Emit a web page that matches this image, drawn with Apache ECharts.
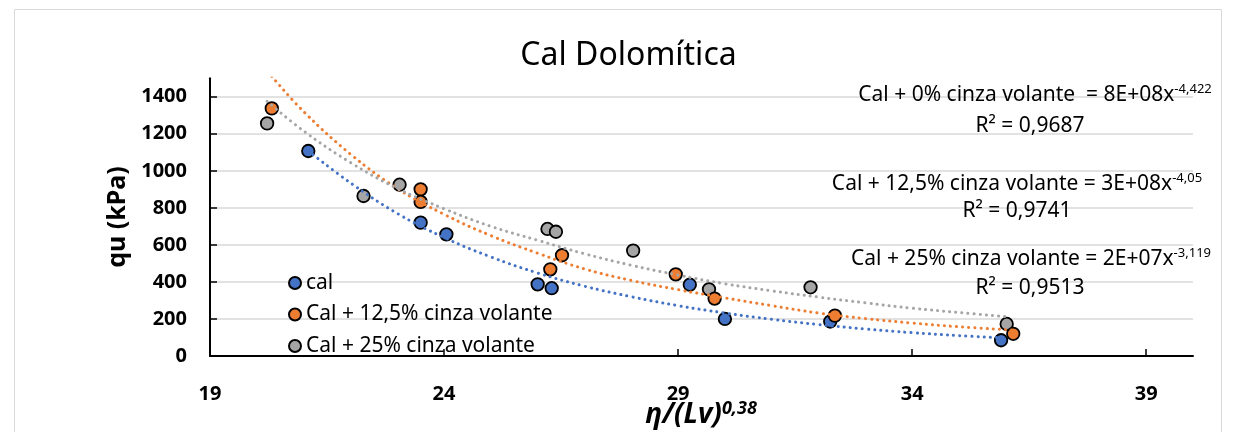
<!DOCTYPE html>
<html><head><meta charset="utf-8">
<script src="https://cdn.jsdelivr.net/npm/echarts@6/dist/echarts.min.js"></script>
<style>html,body{margin:0;padding:0;background:#fff}#c{width:1233px;height:432px}</style>
</head><body><div id="c"></div>
<script>
// ---- data ----
const seriesNames = ['cal', 'Cal + 12,5% cinza volante', 'Cal + 25% cinza volante'];
const calX  = [21.1, 23.5, 24.05, 26.0, 26.3, 29.25, 30.0, 32.25, 35.9];
const calY  = [1107, 720, 657, 387, 366, 385, 200, 186, 85];
const c125X = [20.32, 23.5, 23.5, 26.27, 26.52, 28.95, 29.78, 32.35, 36.16];
const c125Y = [1337, 900, 832, 468, 544, 441, 310, 218, 120];
const c25X  = [20.22, 22.28, 23.05, 26.21, 26.39, 28.04, 29.66, 31.83, 36.02];
const c25Y  = [1256, 864, 925, 686, 671, 569, 360, 371, 173];
// trendlines (power fits)
const trendCalX = [21.1, 22, 23, 24, 25, 26, 27, 28, 29, 30, 31, 32, 33, 34, 35, 35.9];
const trendCalY = [1107, 935, 770, 640, 535, 448, 377, 320, 272, 232, 198, 170, 146, 126, 110, 98];
const trend125X = [20.32, 21, 22, 23, 24, 25, 26, 27, 28, 29, 30, 31, 32, 33, 34, 35, 36.16];
const trend125Y = [1510, 1320, 1090, 905, 765, 650, 555, 470, 408, 358, 314, 272, 232, 202, 178, 158, 140];
const trend25X  = [20.22, 21, 22, 23, 24, 25, 26, 27, 28, 29, 30, 31, 32, 33, 34, 35, 36.02];
const trend25Y  = [1375, 1215, 1045, 905, 795, 700, 625, 552, 490, 437, 390, 352, 318, 287, 258, 235, 212];
const xTicks = [19, 24, 29, 34, 39];
const yTicks = [0, 200, 400, 600, 800, 1000, 1200, 1400];
const eqLines = [
  ['Cal + 0% cinza volante  = 8E+08x', '-4,422'],
  ['R² = 0,9687', ''],
  ['Cal + 12,5% cinza volante = 3E+08x', '-4,05'],
  ['R² = 0,9741', ''],
  ['Cal + 25% cinza volante = 2E+07x', '-3,119'],
  ['R² = 0,9513', '']
];
const titleText = 'Cal Dolomítica';
const yName = 'qu (kPa)';

const colors = ['#4472C4', '#ED7D31', '#A5A5A5'];
const FONT = 'Noto Sans';
const zip = (a, b) => a.map((v, i) => [v, b[i]]);

function scatter(name, xs, ys, color, z) {
  return {
    name, type: 'scatter', data: zip(xs, ys), symbol: 'circle', symbolSize: 12.5, z,
    itemStyle: { color, borderColor: '#000', borderWidth: 1.8, opacity: 1 },
    emphasis: { disabled: true }
  };
}
function trend(xs, ys, color) {
  return {
    type: 'line', data: zip(xs, ys), smooth: 0.4, showSymbol: false, symbol: 'none', z: 10,
    lineStyle: { color, width: 3, type: [0.1, 6], cap: 'round' },
    emphasis: { disabled: true }, silent: true
  };
}

const eqPos = [[1035, 95], [1030, 126], [1017, 184], [1017, 211], [1031, 259], [1030, 288]];
const graphics = eqLines.map((l, i) => ({
  type: 'text', x: eqPos[i][0], y: eqPos[i][1], z: 100,
  style: {
    text: '{m|' + l[0] + '}' + (l[1] ? '{s|' + l[1] + '}' : ''),
    align: 'center', verticalAlign: 'middle',
    rich: {
      m: { fontFamily: FONT, fontSize: 21, lineHeight: 24, fill: '#000' },
      s: { fontFamily: FONT, fontSize: 13, verticalAlign: 'top', fill: '#000' }
    }
  }
}));
graphics.push({
  type: 'text', x: 628.5, y: 56, z: 100,
  style: { text: titleText, align: 'center', verticalAlign: 'middle', fontFamily: FONT, fontSize: 32, fill: '#000' }
});
graphics.push({
  type: 'text', x: 701, y: 415, z: 100,
  style: {
    text: '{m|η/(Lv)}{s|0,38}', align: 'center', verticalAlign: 'middle',
    rich: {
      m: { fontFamily: FONT, fontSize: 28, fontWeight: 'bold', fontStyle: 'italic', lineHeight: 30, fill: '#000' },
      s: { fontFamily: FONT, fontSize: 18, fontWeight: 'bold', fontStyle: 'italic', verticalAlign: 'top', fill: '#000' }
    }
  }
});
// chart-area frame
graphics.push({
  type: 'rect', z: -1, silent: true,
  shape: { x: 14.5, y: 9.5, width: 1207, height: 440 },
  style: { fill: 'none', stroke: '#D9D9D9', lineWidth: 1 }
});

const chart = echarts.init(document.getElementById('c'), null, { renderer: 'canvas' });
chart.setOption({
  animation: false,
  backgroundColor: '#fff',
  grid: { left: 210, right: 40, top: 78.2, bottom: 76, containLabel: false },
  legend: {
    data: seriesNames, orient: 'vertical', left: 283, top: 267.5,
    itemWidth: 12, itemHeight: 12, itemGap: 10.5, icon: 'circle',
    textStyle: { fontFamily: FONT, fontSize: 21, color: '#000' },
    selectedMode: false
  },
  xAxis: {
    type: 'value', min: 19, max: 40,
    axisLine: { show: true, onZero: false, lineStyle: { color: '#000', width: 2 } },
    axisTick: { show: true, inside: true, length: 7, customValues: xTicks, lineStyle: { color: '#000', width: 1.5 } },
    axisLabel: { customValues: xTicks, margin: 28, fontFamily: FONT, fontSize: 20, fontWeight: 'bold', color: '#000',
      formatter: v => String(v) },
    splitLine: { show: false }
  },
  yAxis: {
    type: 'value', min: 0, max: 1500,
    name: yName, nameLocation: 'middle', nameGap: 80, nameRotate: 90,
    nameTextStyle: { fontFamily: FONT, fontSize: 25, fontWeight: 'bold', color: '#000' },
    axisLine: { show: true, lineStyle: { color: '#000', width: 2 } },
    axisTick: { show: true, inside: true, length: 7, customValues: yTicks, lineStyle: { color: '#000', width: 1.5 } },
    axisLabel: { customValues: yTicks, margin: 23, fontFamily: FONT, fontSize: 20, fontWeight: 'bold', color: '#000',
      formatter: v => String(v) },
    splitLine: { show: true, lineStyle: { color: '#D9D9D9', width: 1.5 } }
  },
  series: [
    scatter(seriesNames[0], calX, calY, colors[0], 3),
    scatter(seriesNames[2], c25X, c25Y, colors[2], 4),
    scatter(seriesNames[1], c125X, c125Y, colors[1], 5),
    trend(trendCalX, trendCalY, colors[0]),
    trend(trend125X, trend125Y, colors[1]),
    trend(trend25X, trend25Y, colors[2])
  ],
  graphic: graphics
});
</script></body></html>
